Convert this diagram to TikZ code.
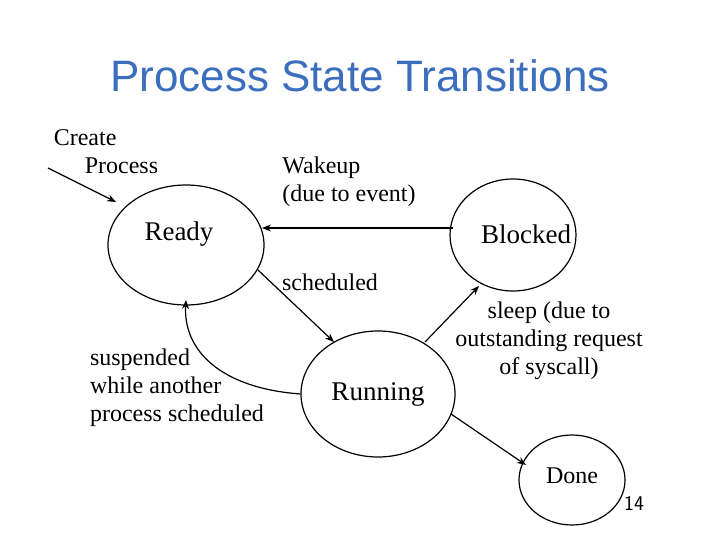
\documentclass[tikz,border=0pt]{standalone}
\usepackage{fontspec}
\setmainfont{Liberation Serif}
\newfontfamily\titlefont{Liberation Sans}
\usetikzlibrary{shapes.geometric,arrows.meta}
\definecolor{titleblue}{RGB}{60,110,190}
\begin{document}
\begin{tikzpicture}[x=1pt,y=-1pt,
  st/.style={draw,line width=1.2pt,ellipse,inner sep=0pt,font=\fontsize{27}{30}\selectfont},
  lbl/.style={font=\fontsize{24}{28}\selectfont,align=left,inner sep=0pt},
  arr/.style={line width=1.2pt,-{Stealth[length=9pt,width=7pt]}}]
\useasboundingbox (0,0) rectangle (720,540);
\node[font=\titlefont\fontsize{44}{46}\selectfont,text=titleblue] (title) at (360,76) {Process State Transitions};
\node[st,minimum width=156,minimum height=120] (ready) at (186,245) {};
\node[font=\fontsize{27}{30}\selectfont] (readyt) at (179,234) {Ready};
\node[st,minimum width=126,minimum height=112] (blocked) at (513,235) {};
\node[font=\fontsize{27}{30}\selectfont] (blockedt) at (526,234) {Blocked};
\node[st,minimum width=154,minimum height=126] (running) at (378,394) {Running};
\node[st,minimum width=106,minimum height=90] (done) at (572,480) {};
\node[font=\fontsize{24}{28}\selectfont] (donet) at (572,476) {Done};
\node[lbl] (create) at (106,152) {Create\\\hspace*{31pt}Process};
\coordinate (cs) at (48,168);
\draw[arr] (cs) -- (116,202);
\node[lbl] (wake) at (349,182) {Wakeup\\(due to event)};
\draw[arr] (453,228) -- (262,228);
\node[lbl] (sched) at (330,282) {scheduled};
\draw[arr] (258,270) -- (334,342);
\node[lbl] (susp) at (177,388) {suspended\\while another\\process scheduled};
\draw[arr] (running.west) .. controls (220,388) and (183,350) .. (186,300);
\node[lbl,align=center] (sleep) at (549,341) {sleep (due to\\outstanding request\\of syscall)};
\draw[arr] (425,342) -- (479,286);
\draw[arr] (451,414) -- (526,465);
\node[font=\sffamily\fontsize{21}{22}\selectfont] (pg) at (634,503) {14};
\end{tikzpicture}
\end{document}
